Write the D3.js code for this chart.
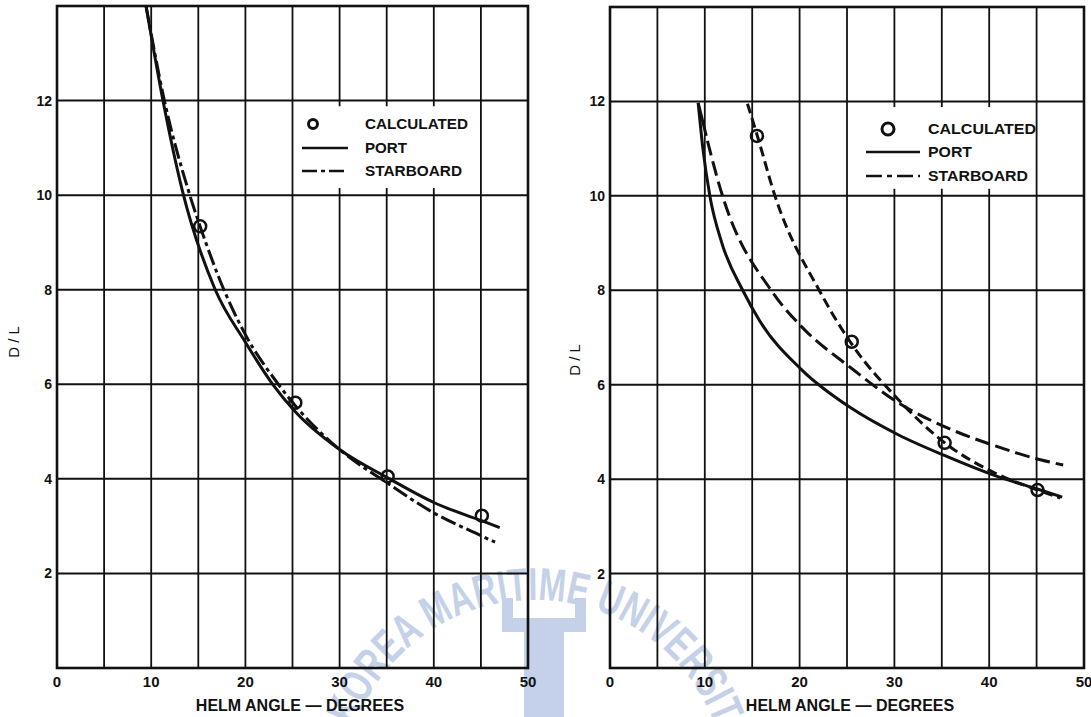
<!DOCTYPE html>
<html lang="en">
<head>
<meta charset="utf-8">
<title>D/L versus helm angle</title>
<script src="https://d3js.org/d3.v7.min.js"></script>
<style>
  body { margin: 0; background: #fff; }
  text { font-family: "Liberation Sans", Arial, sans-serif; fill: #111; }
</style>
</head>
<body>
<div id="viz"></div>
<script>
// tick labels
var xTicks = [0, 10, 20, 30, 40, 50];
var yTicks = [2, 4, 6, 8, 10, 12];
var legendNames = ["CALCULATED", "PORT", "STARBOARD"];

// left chart - calculated points
var calcLeftX = [15.2, 25.3, 35.1, 45.1];
var calcLeftY = [9.34, 5.61, 4.05, 3.22];
// left chart - port (solid)
var portLeftX = [9.45, 11.25, 13.3, 16.8, 20.0, 22.9, 25.3, 30.0, 35.3, 40.0, 45.0, 47.0];
var portLeftY = [14.0, 12.0, 10.1, 8.0, 6.89, 6.0, 5.42, 4.62, 4.0, 3.5, 3.12, 2.97];
// left chart - starboard (dash-dot)
var stbdLeftX = [9.45, 11.4, 14.1, 15.7, 17.3, 20.0, 23.5, 25.5, 30.0, 35.0, 40.0, 45.0, 46.5];
var stbdLeftY = [14.0, 12.0, 10.0, 9.05, 8.2, 7.05, 6.0, 5.5, 4.62, 3.92, 3.28, 2.8, 2.66];

// right chart - calculated points
var calcRightX = [15.5, 25.5, 35.3, 45.1];
var calcRightY = [11.27, 6.91, 4.77, 3.77];
// right chart - port (solid)
var portRightX = [9.3, 9.8, 10.55, 11.8, 14.0, 15.8, 20.25, 25.4, 30.4, 35.65, 40.4, 45.4, 47.7];
var portRightY = [11.97, 11.0, 9.98, 9.0, 8.0, 7.35, 6.31, 5.51, 4.94, 4.47, 4.09, 3.77, 3.62];
// right chart - starboard (solid start, then long dashes)
var stbdRightX = [9.3, 11.9, 17.1, 20.25, 25.4, 30.4, 35.65, 40.4, 45.4, 47.8];
var stbdRightY = [11.97, 9.98, 7.97, 7.22, 6.36, 5.62, 5.08, 4.72, 4.41, 4.30];
// right chart - dashed curve through the calculated points
var fitRightX = [14.5, 15.5, 17.4, 22.15, 25.5, 30.3, 35.3, 40.4, 45.1, 47.5];
var fitRightY = [11.95, 11.3, 10.0, 7.97, 6.86, 5.71, 4.77, 4.15, 3.77, 3.6];

var W = 1091, H = 717;
var svg = d3.select("#viz").append("svg")
    .attr("width", W)
    .attr("height", H);
svg.append("rect").attr("width", W).attr("height", H).attr("fill", "#fff");

// faint watermark of the scanned source
var wm = svg.append("g").attr("fill", "#c4d1e8");
var arcPath = d3.path();
arcPath.arc(535, 792, 192, -160 * Math.PI / 180, -12 * Math.PI / 180, false);
wm.append("path").attr("id", "wmArc").attr("d", arcPath.toString()).attr("fill", "none");
wm.append("text")
    .attr("font-size", 46)
    .attr("font-weight", "bold")
    .style("fill", "#c4d1e8")
    .append("textPath")
    .attr("href", "#wmArc")
    .attr("textLength", 490)
    .attr("lengthAdjust", "spacingAndGlyphs")
    .text("KOREA MARITIME UNIVERSITY");
wm.append("rect").attr("x", 524).attr("y", 622).attr("width", 40).attr("height", 95);
wm.append("rect").attr("x", 502).attr("y", 618).attr("width", 84).attr("height", 14);
wm.append("rect").attr("x", 502).attr("y", 598).attr("width", 11).attr("height", 26);
wm.append("rect").attr("x", 575).attr("y", 598).attr("width", 11).attr("height", 26);

function drawPanel(opt) {
  var x = d3.scaleLinear().domain([0, 50]).range([opt.x0, opt.x1]);
  var y = d3.scaleLinear().domain([0, 14]).range([opt.y0, opt.y1]);
  var g = svg.append("g");

  // grid
  g.selectAll(".vg").data(d3.range(0, 51, 5)).enter().append("line")
      .attr("x1", function(d) { return x(d); }).attr("x2", function(d) { return x(d); })
      .attr("y1", y(0)).attr("y2", y(14))
      .attr("stroke", "#111").attr("stroke-width", 1.8);
  g.selectAll(".hg").data(d3.range(0, 15, 2)).enter().append("line")
      .attr("x1", x(0)).attr("x2", x(50))
      .attr("y1", function(d) { return y(d); }).attr("y2", function(d) { return y(d); })
      .attr("stroke", "#111").attr("stroke-width", 2);
  g.append("rect")
      .attr("x", x(0)).attr("y", y(14))
      .attr("width", x(50) - x(0)).attr("height", y(0) - y(14))
      .attr("fill", "none").attr("stroke", "#111").attr("stroke-width", 2.6);

  // tick labels
  g.selectAll(".xt").data(xTicks).enter().append("text")
      .attr("x", function(d) { return x(d); })
      .attr("y", y(0) + 19)
      .attr("text-anchor", "middle")
      .attr("font-size", 15).attr("font-weight", "bold")
      .text(function(d) { return d; });
  g.selectAll(".yt").data(yTicks).enter().append("text")
      .attr("x", x(0) - 5)
      .attr("y", function(d) { return y(d) + 5; })
      .attr("text-anchor", "end")
      .attr("font-size", 14).attr("font-weight", "bold")
      .text(function(d) { return d; });

  // axis titles
  g.append("text")
      .attr("x", opt.titleX).attr("y", 711)
      .attr("text-anchor", "middle")
      .attr("font-size", 16).attr("font-weight", "bold")
      .text("HELM ANGLE \u2014 DEGREES");
  g.append("text")
      .attr("transform", "translate(" + opt.dlX + "," + opt.dlY + ") rotate(-90)")
      .attr("text-anchor", "middle")
      .attr("font-size", 15)
      .text("D / L");

  // legend box hides the grid behind it
  g.append("rect")
      .attr("x", x(25) + 2).attr("y", y(11.88))
      .attr("width", x(45) - x(25) - 4).attr("height", y(10.15) - y(11.88))
      .attr("fill", "#fff");

  var line = d3.line()
      .x(function(d) { return x(d[0]); })
      .y(function(d) { return y(d[1]); })
      .curve(d3.curveMonotoneX);

  opt.series.forEach(function(s) {
    g.append("path")
        .datum(d3.zip(s.xs, s.ys))
        .attr("d", line)
        .attr("fill", "none")
        .attr("stroke", "#111")
        .attr("stroke-width", 3)
        .attr("stroke-dasharray", s.dash)
        .attr("stroke-linecap", "butt");
  });

  g.selectAll(".calc").data(d3.zip(opt.calcX, opt.calcY)).enter().append("circle")
      .attr("cx", function(d) { return x(d[0]); })
      .attr("cy", function(d) { return y(d[1]); })
      .attr("r", 6)
      .attr("fill", "none")
      .attr("stroke", "#111")
      .attr("stroke-width", 2.5);

  // legend entries
  var L = opt.legend;
  g.append("circle").attr("cx", L.cx).attr("cy", L.rowY[0] - 5).attr("r", L.r)
      .attr("fill", "none").attr("stroke", "#111").attr("stroke-width", 3);
  g.append("line").attr("x1", L.lx0).attr("x2", L.lx1)
      .attr("y1", L.rowY[1] - 5).attr("y2", L.rowY[1] - 5)
      .attr("stroke", "#111").attr("stroke-width", 2.6);
  g.append("line").attr("x1", L.lx0).attr("x2", L.lx1)
      .attr("y1", L.rowY[2] - 5).attr("y2", L.rowY[2] - 5)
      .attr("stroke", "#111").attr("stroke-width", 2.6)
      .attr("stroke-dasharray", L.dash);
  g.selectAll(".lt").data(legendNames).enter().append("text")
      .attr("x", L.tx)
      .attr("y", function(d, i) { return L.rowY[i]; })
      .attr("font-size", 15)
      .attr("font-weight", "bold")
      .attr("textLength", function(d) { return L.widths[d]; })
      .attr("lengthAdjust", "spacingAndGlyphs")
      .text(function(d) { return d; });
}

// long solid start then long dashes
var stbdRightDash = [34, 5];
for (var i = 0; i < 40; i++) stbdRightDash.push(15, 6);

drawPanel({
  x0: 57, x1: 528, y0: 668, y1: 6,
  titleX: 300, dlX: 19, dlY: 342,
  calcX: calcLeftX, calcY: calcLeftY,
  series: [
    {xs: portLeftX, ys: portLeftY, dash: null},
    {xs: stbdLeftX, ys: stbdLeftY, dash: "16,4,4,4"}
  ],
  legend: {cx: 313, r: 4.5, lx0: 302, lx1: 348, tx: 365, rowY: [129, 153, 176],
           dash: "15,4,4,4", widths: {"CALCULATED": 103, "PORT": 42, "STARBOARD": 97}}
});

drawPanel({
  x0: 610, x1: 1084, y0: 668, y1: 7,
  titleX: 850, dlX: 580, dlY: 360,
  calcX: calcRightX, calcY: calcRightY,
  series: [
    {xs: portRightX, ys: portRightY, dash: null},
    {xs: stbdRightX, ys: stbdRightY, dash: stbdRightDash.join(",")},
    {xs: fitRightX, ys: fitRightY, dash: "10,5"}
  ],
  legend: {cx: 888, r: 6, lx0: 866, lx1: 920, tx: 928, rowY: [134, 157, 181],
           dash: "16,5,5,5", widths: {"CALCULATED": 108, "PORT": 44, "STARBOARD": 100}}
});
</script>
</body>
</html>
